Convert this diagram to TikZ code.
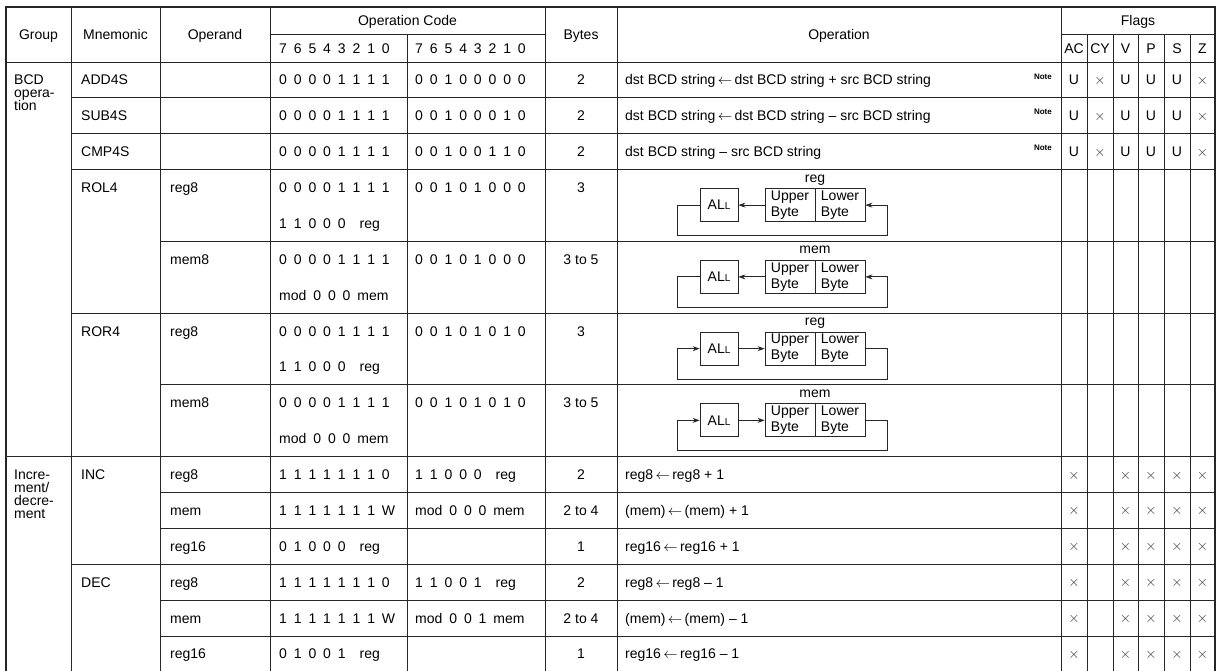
\documentclass[tikz,border=0pt]{standalone}
\usepackage{fontspec}
\setmainfont{Liberation Sans}
\usetikzlibrary{arrows.meta}
\newcounter{tn}
\newcommand\tx[4][]{\stepcounter{tn}\node[txt,#1] (t\arabic{tn}) at (#2,#3) {#4};}
\newcommand\bits[1]{{\spaceskip=6.9pt\relax #1}}
\newcommand\xs{{\color{black!80}\fontsize{14pt}{14pt}\selectfont$\times$}}
\newcommand\la{\,$\leftarrow$\,}
\newcommand\flagsU[1]{%
  \tx[ctr]{1074}{#1}{U}\tx[ctr]{1100}{#1-0.5}{\xs}\tx[ctr]{1125.5}{#1}{U}%
  \tx[ctr]{1151}{#1}{U}\tx[ctr]{1177}{#1}{U}\tx[ctr]{1202.5}{#1-0.5}{\xs}}
\newcommand\flagsX[1]{%
  \tx[ctr]{1074}{#1-0.5}{\xs}\tx[ctr]{1125.5}{#1-0.5}{\xs}%
  \tx[ctr]{1151}{#1-0.5}{\xs}\tx[ctr]{1177}{#1-0.5}{\xs}\tx[ctr]{1202.5}{#1-0.5}{\xs}}
\newcommand\diag[3]{%
  \node[lbl] (#1t) at (815,#2+12.5) {#3};
  \node[rbox, minimum width=38pt] (#1a) at (719,#2+35.5) {AL{\fontsize{10pt}{10pt}\selectfont L}};
  \node[rbox, minimum width=50pt, align=left, font=\fontsize{14pt}{16pt}\selectfont] (#1u) at (790,#2+35.5) {Upper\\Byte};
  \node[rbox, minimum width=50pt, align=left, font=\fontsize{14pt}{16pt}\selectfont] (#1l) at (840,#2+35.5) {Lower\\Byte};
  \coordinate (#1q) at (677,#2+66);
  \coordinate (#1r) at (887,#2+66);}
\newcommand\rolarrows[1]{%
  \draw[arr] (#1u.west) -- (#1a.east);
  \draw[arr] (#1a.west) -| (#1q) -- (#1r) |- (#1l.east);}
\newcommand\rorarrows[1]{%
  \draw[arr] (#1a.east) -- (#1u.west);
  \draw[arr] (#1l.east) -| (#1r) -- (#1q) |- (#1a.west);}
\begin{document}
\begin{tikzpicture}[x=1pt,y=-1pt,
  every node/.style={font=\fontsize{14pt}{12pt}\selectfont},
  txt/.style={inner sep=0pt, anchor=base west},
  ctr/.style={anchor=base},
  lbl/.style={inner sep=0pt, anchor=base},
  note/.style={inner sep=0pt, anchor=base east, font=\fontsize{8pt}{8pt}\selectfont\bfseries},
  grid/.style={line width=0.8pt, draw=black!85},
  outer/.style={line width=1.4pt, draw=black!85},
  rbox/.style={draw=black!85, line width=0.8pt, inner sep=0pt, minimum height=33pt},
  arr/.style={line width=0.8pt, draw=black!85, -{Stealth[length=7pt,width=5pt]}}]
\fill[white] (0,0) rectangle (1217,670);
\useasboundingbox (0,0) rectangle (1217,670);
% grid
\foreach \x in {71,160,270,545,617,1061} \draw[grid] (\x,7) -- (\x,672);
\foreach \x in {407,1087,1113,1138,1164,1190} \draw[grid] (\x,34) -- (\x,672);
\draw[grid] (270,34) -- (545,34);
\draw[grid] (1061,34) -- (1215,34);
\draw[grid, line width=1pt] (6,62) -- (1215,62);
\foreach \y in {97.875,133.75,169.625,313.125,564.25} \draw[grid] (71,\y) -- (1215,\y);
\foreach \y in {241.375,384.875,492.5,528.375,600.125,636} \draw[grid] (160,\y) -- (1215,\y);
\draw[grid] (6,456.625) -- (1215,456.625);
\draw[outer] (6,672) -- (6,7) -- (1215,7) -- (1215,672);
% header
\tx[ctr]{38.5}{39.5}{Group}
\tx[ctr]{115.5}{39.5}{Mnemonic}
\tx[ctr]{215}{39.5}{Operand}
\tx[ctr]{407.5}{25.5}{Operation Code}
\tx{279}{53.5}{\bits{7 6 5 4 3 2 1 0}}
\tx{415}{53.5}{\bits{7 6 5 4 3 2 1 0}}
\tx[ctr]{581}{39.5}{Bytes}
\tx[ctr]{839}{39.5}{Operation}
\tx[ctr]{1138}{25.5}{Flags}
\tx[ctr]{1074}{53.5}{AC}
\tx[ctr]{1100}{53.5}{CY}
\tx[ctr]{1125.5}{53.5}{V}
\tx[ctr]{1151}{53.5}{P}
\tx[ctr]{1177}{53.5}{S}
\tx[ctr]{1202.5}{53.5}{Z}
% group column
\tx{14}{84.9}{BCD}
\tx{14}{97.9}{opera-}
\tx{14}{110.9}{tion}
\tx{14}{479.6}{Incre-}
\tx{14}{492.6}{ment/}
\tx{14}{505.6}{decre-}
\tx{14}{518.6}{ment}
% mnemonic
\tx{81}{84.9}{ADD4S}
\tx{81}{120.8}{SUB4S}
\tx{81}{156.7}{CMP4S}
\tx{81}{192.6}{ROL4}
\tx{81}{336.1}{ROR4}
\tx{81}{479.6}{INC}
\tx{81}{587.2}{DEC}
% operand
\tx{170}{192.6}{reg8}
\tx{170}{264.3}{mem8}
\tx{170}{336.1}{reg8}
\tx{170}{407.8}{mem8}
\tx{170}{479.6}{reg8}
\tx{170}{515.4}{mem}
\tx{170}{551.3}{reg16}
\tx{170}{587.2}{reg8}
\tx{170}{623.1}{mem}
\tx{170}{658.9}{reg16}
% opcode 1
\tx{279}{84.9}{\bits{0 0 0 0 1 1 1 1}}
\tx{279}{120.8}{\bits{0 0 0 0 1 1 1 1}}
\tx{279}{156.7}{\bits{0 0 0 0 1 1 1 1}}
\tx{279}{192.6}{\bits{0 0 0 0 1 1 1 1}}
\tx{279}{228.4}{\bits{1 1 0 0 0\hspace{14pt}reg}}
\tx{279}{264.3}{\bits{0 0 0 0 1 1 1 1}}
\tx{279}{300.2}{\bits{mod 0 0 0 mem}}
\tx{279}{336.1}{\bits{0 0 0 0 1 1 1 1}}
\tx{279}{371.9}{\bits{1 1 0 0 0\hspace{14pt}reg}}
\tx{279}{407.8}{\bits{0 0 0 0 1 1 1 1}}
\tx{279}{443.7}{\bits{mod 0 0 0 mem}}
\tx{279}{479.6}{\bits{1 1 1 1 1 1 1 0}}
\tx{279}{515.4}{\bits{1 1 1 1 1 1 1 W}}
\tx{279}{551.3}{\bits{0 1 0 0 0\hspace{14pt}reg}}
\tx{279}{587.2}{\bits{1 1 1 1 1 1 1 0}}
\tx{279}{623.1}{\bits{1 1 1 1 1 1 1 W}}
\tx{279}{658.9}{\bits{0 1 0 0 1\hspace{14pt}reg}}
% opcode 2
\tx{415}{84.9}{\bits{0 0 1 0 0 0 0 0}}
\tx{415}{120.8}{\bits{0 0 1 0 0 0 1 0}}
\tx{415}{156.7}{\bits{0 0 1 0 0 1 1 0}}
\tx{415}{192.6}{\bits{0 0 1 0 1 0 0 0}}
\tx{415}{264.3}{\bits{0 0 1 0 1 0 0 0}}
\tx{415}{336.1}{\bits{0 0 1 0 1 0 1 0}}
\tx{415}{407.8}{\bits{0 0 1 0 1 0 1 0}}
\tx{415}{479.6}{\bits{1 1 0 0 0\hspace{14pt}reg}}
\tx{415}{515.4}{\bits{mod 0 0 0 mem}}
\tx{415}{587.2}{\bits{1 1 0 0 1\hspace{14pt}reg}}
\tx{415}{623.1}{\bits{mod 0 0 1 mem}}
% bytes
\tx[ctr]{581}{84.9}{2}
\tx[ctr]{581}{120.8}{2}
\tx[ctr]{581}{156.7}{2}
\tx[ctr]{581}{192.6}{3}
\tx[ctr]{581}{264.3}{3 to 5}
\tx[ctr]{581}{336.1}{3}
\tx[ctr]{581}{407.8}{3 to 5}
\tx[ctr]{581}{479.6}{2}
\tx[ctr]{581}{515.4}{2 to 4}
\tx[ctr]{581}{551.3}{1}
\tx[ctr]{581}{587.2}{2}
\tx[ctr]{581}{623.1}{2 to 4}
\tx[ctr]{581}{658.9}{1}
% operation
\tx{625}{84.9}{dst BCD string\la dst BCD string + src BCD string}
\tx{625}{120.8}{dst BCD string\la dst BCD string – src BCD string}
\tx{625}{156.7}{dst BCD string – src BCD string}
\tx[note]{1052}{79}{Note}
\tx[note]{1052}{114.9}{Note}
\tx[note]{1052}{150.8}{Note}
\diag{A}{169.625}{reg}\rolarrows{A}
\diag{B}{241.375}{mem}\rolarrows{B}
\diag{C}{313.125}{reg}\rorarrows{C}
\diag{D}{384.875}{mem}\rorarrows{D}
\tx{625}{479.6}{reg8\la reg8 + 1}
\tx{625}{515.4}{(mem)\la (mem) + 1}
\tx{625}{551.3}{reg16\la reg16 + 1}
\tx{625}{587.2}{reg8\la reg8 – 1}
\tx{625}{623.1}{(mem)\la (mem) – 1}
\tx{625}{658.9}{reg16\la reg16 – 1}
% flags
\flagsU{84.9}
\flagsU{120.8}
\flagsU{156.7}
\flagsX{479.6}
\flagsX{515.4}
\flagsX{551.3}
\flagsX{587.2}
\flagsX{623.1}
\flagsX{658.9}
\end{tikzpicture}
\end{document}
